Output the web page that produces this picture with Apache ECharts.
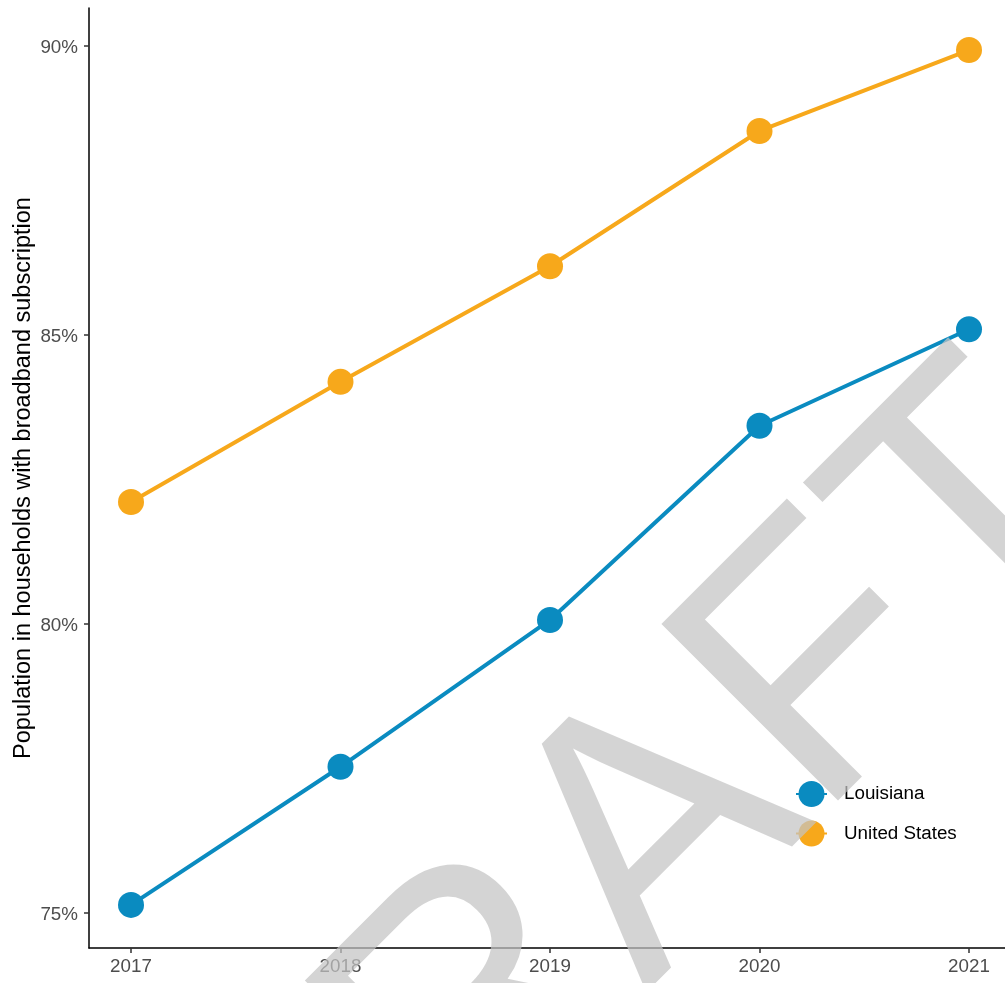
<!DOCTYPE html>
<html>
<head>
<meta charset="utf-8">
<script src="https://cdn.jsdelivr.net/npm/echarts@6/dist/echarts.min.js"></script>
<style>
html,body{margin:0;padding:0;background:#fff;}
#chart{width:1005px;height:983px;}
</style>
</head>
<body>
<div id="chart"></div>
<script>
const years = [2017, 2018, 2019, 2020, 2021];
const louisiana = [75.14, 77.53, 80.07, 83.43, 85.10];
const unitedStates = [82.11, 84.19, 86.19, 88.53, 89.93];
const yTicks = [75, 80, 85, 90];
const seriesNames = ['Louisiana', 'United States'];
const yTitle = 'Population in households with broadband subscription';
const watermark = 'DRAFT';

const FONT = '"Liberation Sans", Arial, sans-serif';
const chart = echarts.init(document.getElementById('chart'));
const pair = (vals) => years.map((y, i) => [y, vals[i]]);

chart.setOption({
  animation: false,
  backgroundColor: '#ffffff',
  grid: {left: 89, top: 8, right: 0, bottom: 35, containLabel: false, outerBoundsMode: 'none'},
  xAxis: {
    type: 'value',
    min: 2016.7995, max: 2021.1718,
    axisLine: {show: true, lineStyle: {color: '#000', width: 1.5}},
    axisTick: {show: true, length: 5, lineStyle: {color: '#333', width: 1.5}, customValues: years},
    axisLabel: {show: true, margin: 9, color: '#4d4d4d', fontSize: 18.8, fontFamily: FONT,
      customValues: years, formatter: v => String(v)},
    splitLine: {show: false}
  },
  yAxis: {
    type: 'value',
    min: 74.3945, max: 90.6574,
    name: yTitle,
    nameLocation: 'middle',
    nameGap: 53,
    nameMoveOverlap: false,
    nameTextStyle: {color: '#000', fontSize: 23.5, fontFamily: FONT},
    axisLine: {show: true, lineStyle: {color: '#000', width: 1.5}},
    axisTick: {show: true, length: 5, lineStyle: {color: '#333', width: 1.5}, customValues: yTicks},
    axisLabel: {show: true, margin: 11, color: '#4d4d4d', fontSize: 18.8, fontFamily: FONT,
      verticalAlign: 'top', lineHeight: 4,
      customValues: yTicks, formatter: v => v + '%'},
    splitLine: {show: false}
  },
  legend: {
    left: 795, top: 781,
    padding: 0,
    orient: 'vertical',
    itemWidth: 31, itemHeight: 32.5, itemGap: 13.5,
    textStyle: {color: '#000', fontSize: 18.8, fontFamily: FONT, padding: [0, 0, 0, 12]},
    data: seriesNames
  },
  series: [
    {
      name: seriesNames[0], type: 'line', data: pair(louisiana),
      symbol: 'circle', symbolSize: 26,
      itemStyle: {color: '#0A8BC0'},
      lineStyle: {color: '#0A8BC0', width: 4},
      emphasis: {disabled: true}
    },
    {
      name: seriesNames[1], type: 'line', data: pair(unitedStates),
      symbol: 'circle', symbolSize: 26,
      itemStyle: {color: '#F7A81B'},
      lineStyle: {color: '#F7A81B', width: 4},
      emphasis: {disabled: true}
    }
  ],
  graphic: [{
    type: 'text',
    x: 632, y: 865,
    rotation: Math.PI / 4,
    z: 1000,
    silent: true,
    style: {
      text: watermark,
      fontSize: 363,
      fontFamily: FONT,
      fill: 'rgba(195,195,195,0.72)',
      textAlign: 'center',
      textVerticalAlign: 'middle'
    }
  }]
});
</script>
</body>
</html>
